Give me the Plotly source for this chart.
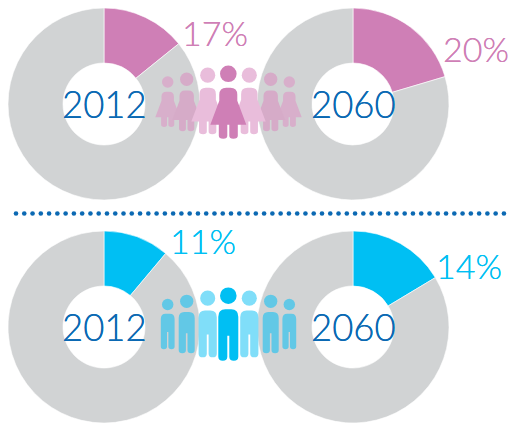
import numpy as np
import plotly.graph_objects as go

W, H = 511, 423
# Chart data
years = ["2012", "2060", "2012", "2060"]
shares = [14.2, 20.4, 11.1, 16.4]          # slice sizes as drawn
labels = ["17%", "20%", "11%", "14%"]
colors = ["#cf7fb6", "#cf7fb6", "#00bff3", "#00bff3"]
GREY = "#d1d3d4"
BLUE = "#0b69b3"
centers = [(104, 104), (353, 104), (104, 327), (353, 327)]
R = 96
HOLE = 41
label_pos = [(215, 32), (476, 48), (203, 240), (469, 265)]
figure_x = [228.3, 207.7, 249.3, 186.7, 270.7, 167.7, 289.3]
figure_s = [1.0, 0.91, 0.91, 0.8, 0.8, 0.69, 0.69]
woman_colors = ["#cf7fb6", "#e9bddb", "#e9bddb", "#d6abc8", "#d6abc8", "#d8afcb", "#d8afcb"]
man_colors = ["#00bff3", "#80def9", "#80def9", "#62c8e6", "#62c8e6", "#62c8e6", "#62c8e6"]

fig = go.Figure()

fig.add_trace(go.Scatter(
    x=np.arange(16, 507, 8.27), y=[213.5] * 60, mode="markers",
    marker=dict(size=4.6, color=BLUE), hoverinfo="skip", showlegend=False))

for (cx, cy), share, col in zip(centers, shares, colors):
    fig.add_trace(go.Pie(
        values=[share, 100 - share], sort=False, direction="clockwise", rotation=0,
        hole=HOLE / R, textinfo="none", showlegend=False,
        marker=dict(colors=[col, GREY], line=dict(width=0.6, color="white")),
        domain=dict(x=[(cx - R) / W, (cx + R) / W],
                    y=[max(0, 1 - (cy + R) / H), 1 - (cy - R) / H])))

shapes = []

def circle(cx, cy, r, col):
    shapes.append(dict(type="circle", xref="x", yref="y", x0=cx - r, x1=cx + r,
                       y0=cy - r, y1=cy + r, fillcolor=col, line_width=0, layer="above"))

def path(d, col):
    shapes.append(dict(type="path", xref="x", yref="y", path=d, fillcolor=col,
                       line_width=0, layer="above"))

def woman(x, bottom, s, col):
    top = bottom - 64.7 * s
    circle(x, top, 8.3 * s, col)
    P = lambda dx, dy: f"{x + dx * s:.2f},{top + dy * s:.2f}"
    path("M" + P(-9, 21) + " Q" + P(-9, 14) + " " + P(-2, 14) + " L" + P(2, 14)
         + " Q" + P(9, 14) + " " + P(9, 21) + " L" + P(9, 27) + " L" + P(18, 51) + " L" + P(9.5, 51)
         + " L" + P(9.5, 62) + " Q" + P(9.5, 65) + " " + P(5, 65) + " Q" + P(1, 65) + " " + P(1, 62)
         + " L" + P(1, 51) + " L" + P(-1, 51) + " L" + P(-1, 62)
         + " Q" + P(-1, 65) + " " + P(-5, 65) + " Q" + P(-9.5, 65) + " " + P(-9.5, 62)
         + " L" + P(-9.5, 51) + " L" + P(-18, 51) + " L" + P(-9, 27) + " Z", col)

def man(x, bottom, s, col):
    top = bottom - 65 * s
    circle(x, top, 8.3 * s, col)
    P = lambda dx, dy: f"{x + dx * s:.2f},{top + dy * s:.2f}"
    path("M" + P(-10, 21) + " Q" + P(-10, 13.5) + " " + P(-3, 13.5) + " L" + P(3, 13.5)
         + " Q" + P(10, 13.5) + " " + P(10, 21) + " L" + P(10, 61)
         + " Q" + P(10, 65) + " " + P(5.5, 65) + " Q" + P(1, 65) + " " + P(1, 61)
         + " L" + P(1, 40) + " L" + P(-1, 40) + " L" + P(-1, 61)
         + " Q" + P(-1, 65) + " " + P(-5.5, 65) + " Q" + P(-10, 65) + " " + P(-10, 61) + " Z", col)

order = [5, 6, 3, 4, 1, 2, 0]
woman_bottom = {1.0: 138.5, 0.91: 134, 0.8: 131, 0.69: 126.7}
man_bottom = {1.0: 360.7, 0.91: 357.3, 0.8: 353.3, 0.69: 349.3}
for i in order:
    woman(figure_x[i], woman_bottom[figure_s[i]], figure_s[i], woman_colors[i])
for i in order:
    man(figure_x[i], man_bottom[figure_s[i]], figure_s[i], man_colors[i])

annotations = []
FONT = "Lato"
for (cx, cy), y in zip(centers, years):
    annotations.append(dict(x=cx, y=cy, text=y, showarrow=False, xref="x", yref="y",
                            font=dict(family=FONT, size=36.5, color=BLUE, weight=300,
                                      shadow=f"0 0 0.6px {BLUE}")))
for (x, y), t, c in zip(label_pos, labels, colors):
    annotations.append(dict(x=x, y=y, text=t, showarrow=False, xref="x", yref="y",
                            font=dict(family=FONT, size=34, color=c, weight=300,
                                      shadow=f"0 0 0.5px {c}")))

fig.update_layout(
    width=W, height=H, margin=dict(l=0, r=0, t=0, b=0), autosize=False,
    paper_bgcolor="white", plot_bgcolor="rgba(0,0,0,0)",
    xaxis=dict(range=[0, W], visible=False, domain=[0, 1]),
    yaxis=dict(range=[H, 0], visible=False, domain=[0, 1]),
    shapes=shapes, annotations=annotations, showlegend=False)

fig.write_html("out.html", post_script="document.body.style.margin='0';",
               config=dict(displayModeBar=False))
